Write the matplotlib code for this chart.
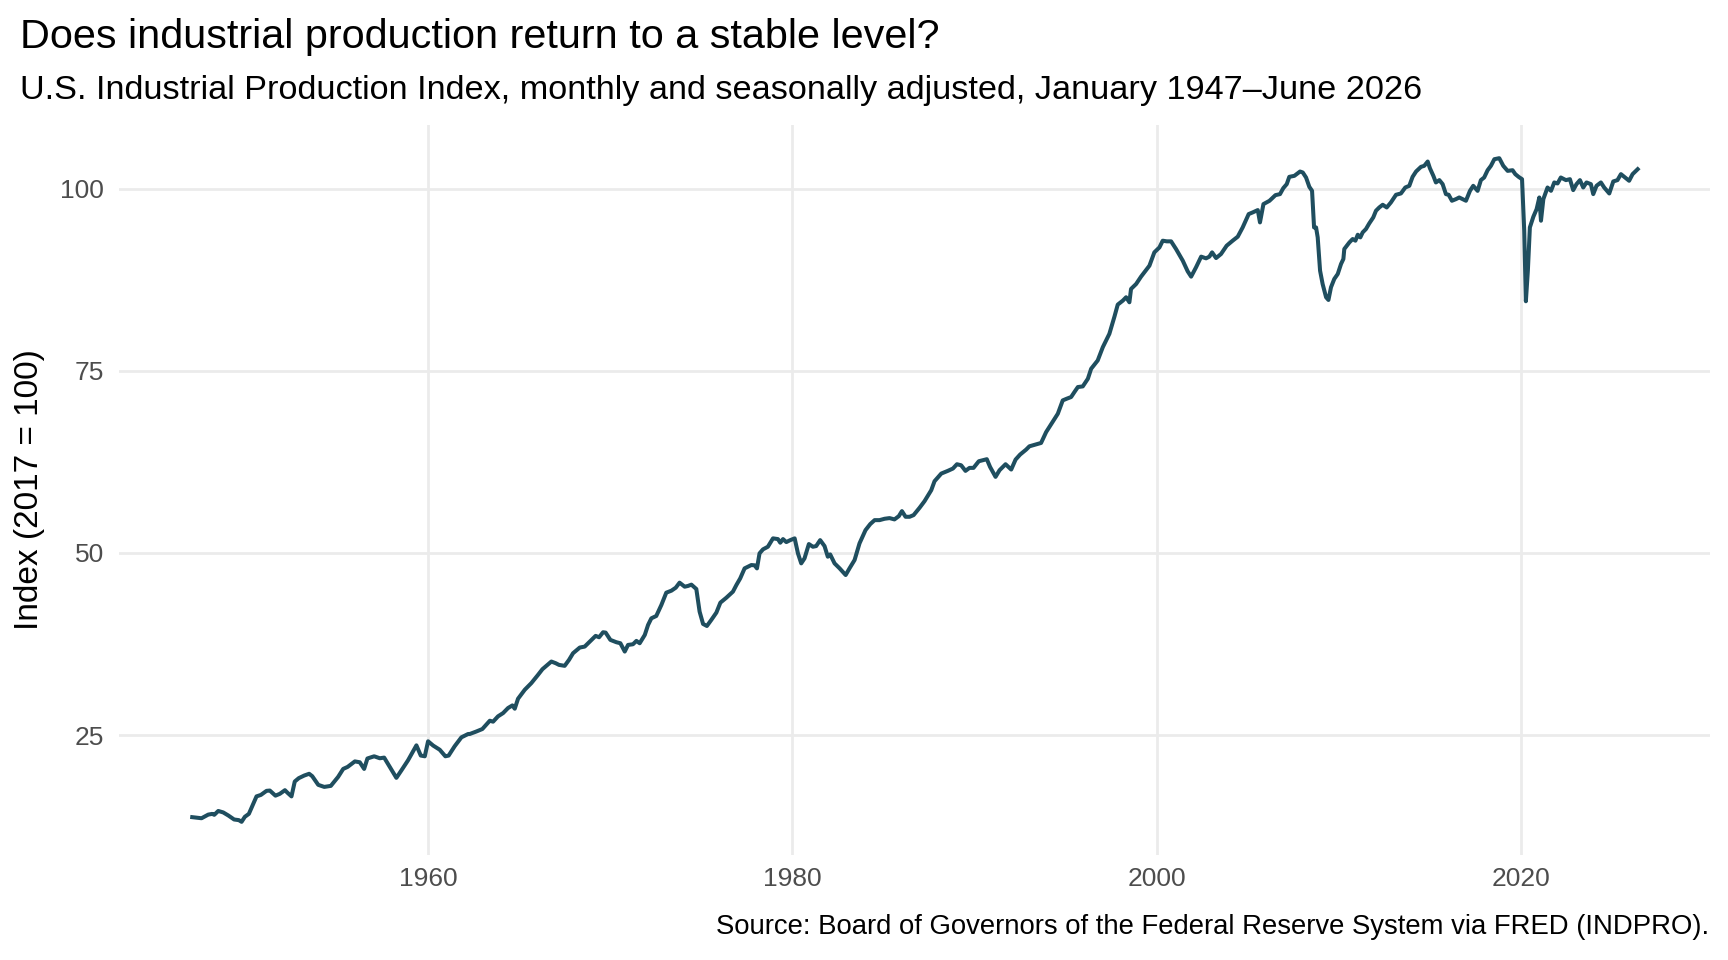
import matplotlib
matplotlib.use("Agg")
import matplotlib.pyplot as plt

plt.rcParams['font.family'] = ['Liberation Sans', 'DejaVu Sans']

# ---- data (decimal year, index 2017=100) ----
years = [
    1947.05, 1947.56, 1947.93, 1948.15, 1948.26, 1948.48, 1948.75, 1949.03, 1949.35, 1949.61,
    1949.76, 1949.94, 1950.16, 1950.58, 1950.82, 1951.13, 1951.31, 1951.62, 1951.86, 1952.14,
    1952.28, 1952.50, 1952.68, 1952.90, 1953.20, 1953.47, 1953.64, 1953.97, 1954.30, 1954.66,
    1955.06, 1955.34, 1955.58, 1955.98, 1956.25, 1956.49, 1956.67, 1957.04, 1957.35, 1957.59,
    1957.90, 1958.26, 1958.54, 1958.90, 1959.36, 1959.60, 1959.82, 1960.00, 1960.28, 1960.64,
    1960.95, 1961.13, 1961.46, 1961.83, 1962.20,
    1962.29, 1962.65, 1962.98, 1963.39, 1963.57, 1963.84, 1964.12, 1964.39, 1964.63, 1964.76,
    1964.94, 1965.31, 1965.67, 1966.04, 1966.28, 1966.77, 1967.01, 1967.19, 1967.50, 1967.74,
    1967.96, 1968.33, 1968.60, 1968.88, 1969.20, 1969.39, 1969.61, 1969.75, 1970.01, 1970.34,
    1970.56, 1970.80, 1970.98, 1971.25, 1971.44, 1971.62, 1971.90, 1972.08, 1972.26, 1972.53,
    1972.81, 1973.08, 1973.36, 1973.60, 1973.81, 1974.09, 1974.27, 1974.46, 1974.73, 1974.91,
    1975.10, 1975.31, 1975.55, 1975.83, 1976.05, 1976.38, 1976.74, 1976.93, 1977.14, 1977.38,
    1977.75, 1977.93,
    1978.06, 1978.20, 1978.39, 1978.66, 1978.94, 1979.21, 1979.34, 1979.49, 1979.67, 1979.89,
    1980.13, 1980.31, 1980.49, 1980.67, 1980.91, 1981.13, 1981.31, 1981.53, 1981.77, 1981.95,
    1982.08, 1982.32, 1982.60, 1982.93, 1983.14, 1983.42, 1983.69, 1984.02, 1984.28, 1984.52,
    1984.79, 1985.07, 1985.34, 1985.61, 1985.85, 1986.02, 1986.22, 1986.44, 1986.66, 1986.99,
    1987.26, 1987.63, 1987.81, 1988.18, 1988.54, 1988.82, 1989.04, 1989.27, 1989.51, 1989.73,
    1989.95, 1990.24, 1990.46, 1990.68, 1990.86, 1991.16, 1991.38, 1991.71, 1992.02, 1992.26,
    1992.51, 1992.84,
    1993.02, 1993.39, 1993.66, 1993.94, 1994.21, 1994.58, 1994.85, 1995.07, 1995.31, 1995.49,
    1995.68, 1995.95, 1996.23, 1996.41, 1996.77, 1997.05, 1997.41, 1997.69, 1997.87, 1998.15,
    1998.33, 1998.51, 1998.60, 1998.88, 1999.15, 1999.43, 1999.61, 1999.88, 2000.16, 2000.34,
    2000.56, 2000.80, 2001.07, 2001.44, 2001.71, 2001.90, 2002.17, 2002.45, 2002.72, 2002.90,
    2003.05, 2003.27, 2003.54, 2003.85, 2004.18, 2004.46, 2004.73, 2005.06, 2005.28, 2005.56,
    2005.68, 2005.87, 2006.20, 2006.53, 2006.78, 2006.96, 2007.15, 2007.29, 2007.57, 2007.88,
    2008.03, 2008.21, 2008.39, 2008.54, 2008.65, 2008.76, 2008.85, 2008.98, 2009.12, 2009.31,
    2009.44, 2009.58, 2009.76, 2009.95, 2010.13, 2010.26, 2010.31, 2010.59, 2010.77, 2010.92,
    2011.05, 2011.19, 2011.32, 2011.50, 2011.68, 2011.90, 2012.05, 2012.23, 2012.42, 2012.64,
    2012.87, 2013.15, 2013.42, 2013.66, 2013.88, 2014.06, 2014.25, 2014.52, 2014.70, 2014.89,
    2015.01, 2015.20, 2015.34, 2015.53, 2015.71, 2015.89, 2016.04, 2016.22, 2016.44, 2016.62,
    2016.81, 2016.99, 2017.21, 2017.39, 2017.63, 2017.81, 2017.99, 2018.18, 2018.36, 2018.55,
    2018.82, 2019.04, 2019.28, 2019.55, 2019.70, 2019.88, 2020.07, 2020.19, 2020.28, 2020.39,
    2020.50, 2020.69, 2020.87, 2021.02, 2021.11, 2021.24, 2021.47, 2021.66, 2021.84, 2022.02,
    2022.20, 2022.48, 2022.70, 2022.88, 2023.06, 2023.25, 2023.43, 2023.61, 2023.85, 2023.98,
    2024.16, 2024.40, 2024.58, 2024.86, 2025.08, 2025.31, 2025.50, 2025.73, 2025.95, 2026.14,
    2026.42,
]
index_values = [
    13.75, 13.60, 14.10, 14.20, 14.07, 14.60, 14.40, 13.98, 13.43, 13.34,
    13.11, 13.80, 14.20, 16.60, 16.80, 17.36, 17.40, 16.70, 16.95, 17.45,
    17.10, 16.60, 18.64, 19.10, 19.46, 19.70, 19.37, 18.18, 17.90, 18.04,
    19.27, 20.37, 20.64, 21.40, 21.28, 20.37, 21.80, 22.10, 21.83, 21.92,
    20.64, 19.14, 20.18, 21.55, 23.60, 22.20, 22.10, 24.16, 23.57, 23.00,
    22.10, 22.20, 23.48, 24.70, 25.16,
    25.16, 25.50, 25.84, 26.98, 26.85, 27.58, 28.03, 28.72, 29.08, 28.63,
    30.00, 31.23, 32.14, 33.28, 34.05, 35.10, 34.87, 34.64, 34.51, 35.33,
    36.24, 37.02, 37.15, 37.84, 38.62, 38.43, 39.12, 39.07, 38.07, 37.75,
    37.61, 36.47, 37.38, 37.47, 37.93, 37.61, 38.75, 40.12, 41.03, 41.35,
    42.86, 44.55, 44.82, 45.23, 45.92, 45.37, 45.47, 45.65, 45.05, 41.95,
    40.26, 39.98, 40.80, 41.81, 43.18, 43.86, 44.69, 45.60, 46.51, 47.88,
    48.34, 48.30,
    47.88, 49.94, 50.49, 50.85, 52.00, 51.90, 51.40, 51.90, 51.49, 51.76,
    52.00, 49.94, 48.57, 49.25, 51.22, 50.85, 50.94, 51.76, 50.94, 49.48,
    49.80, 48.57, 47.88, 46.97, 47.88, 49.03, 51.31, 53.13, 53.96, 54.50,
    54.50, 54.69, 54.78, 54.60, 55.05, 55.74, 54.96, 54.96, 55.19, 56.20,
    57.10, 58.61, 59.84, 60.89, 61.26, 61.58, 62.17, 62.03, 61.26, 61.67,
    61.67, 62.58, 62.72, 62.86, 61.80, 60.44, 61.35, 62.17, 61.44, 62.81,
    63.50, 64.18,
    64.63, 64.90, 65.09, 66.59, 67.64, 69.10, 70.93, 71.16, 71.39, 72.07,
    72.76, 72.85, 73.90, 75.27, 76.41, 78.23, 80.06, 82.43, 84.07, 84.62,
    85.08, 84.39, 86.22, 86.90, 87.91, 88.82, 89.41, 91.24, 91.92, 92.84,
    92.75, 92.75, 91.70, 90.10, 88.64, 87.91, 89.19, 90.65, 90.42, 90.65,
    91.24, 90.46, 91.01, 92.15, 92.84, 93.39, 94.66, 96.49, 96.72, 97.04,
    95.35, 97.86, 98.31, 99.09, 99.23, 100.05, 100.60, 101.60, 101.74, 102.33,
    102.20, 101.51, 100.23, 99.68, 94.66, 94.66, 93.29, 88.73, 86.90, 85.08,
    84.71, 86.45, 87.59, 88.27, 89.64, 90.33, 91.70, 92.61, 93.07, 92.84,
    93.66, 93.29, 93.98, 94.44, 95.21, 96.03, 96.95, 97.40, 97.77, 97.40,
    98.09, 99.14, 99.32, 100.14, 100.37, 101.60, 102.33, 102.97, 103.11, 103.70,
    102.79, 101.74, 100.83, 101.15, 100.60, 99.23, 99.14, 98.32, 98.54, 98.77,
    98.54, 98.32, 99.68, 100.37, 99.68, 101.15, 101.51, 102.51, 103.11, 104.02,
    104.16, 103.11, 102.42, 102.51, 101.97, 101.60, 101.28, 94.21, 84.53, 88.73,
    94.66, 96.12, 97.17, 98.77, 95.58, 98.54, 100.14, 99.68, 100.83, 100.69,
    101.51, 101.15, 101.28, 99.78, 100.60, 101.15, 100.14, 100.83, 100.60, 99.23,
    100.37, 100.83, 100.14, 99.32, 100.97, 101.15, 101.97, 101.51, 101.06, 101.97,
    102.65,
]
x_ticks = [1960, 1980, 2000, 2020]
y_ticks = [25, 50, 75, 100]

title = "Does industrial production return to a stable level?"
subtitle = "U.S. Industrial Production Index, monthly and seasonally adjusted, January 1947\u2013June 2026"
y_label = "Index (2017 = 100)"
caption = "Source: Board of Governors of the Federal Reserve System via FRED (INDPRO)."

W, H = 1728, 960
fig = plt.figure(figsize=(W / 100, H / 100), dpi=100)
ax = fig.add_axes([119 / W, 1 - 855 / H, (1710 - 119) / W, (855 - 125) / H])

ax.plot(years, index_values, color="#1F4E5F", lw=2.9, solid_joinstyle="round")

xmin, xmax = 1947.0, 2026.42
xr = xmax - xmin
ax.set_xlim(xmin - 0.05 * xr, xmax + 0.05 * xr)
ymin, ymax = min(index_values), max(index_values)
yr = ymax - ymin
ax.set_ylim(ymin - 0.05 * yr, ymax + 0.05 * yr)

ax.set_xticks(x_ticks)
ax.set_yticks(y_ticks)
ax.grid(True, color="#EBEBEB", lw=2.0)
ax.set_axisbelow(True)
for s in ax.spines.values():
    s.set_visible(False)
ax.tick_params(length=0, labelsize=19, labelcolor="#4D4D4D")
ax.tick_params(axis="x", pad=9)
ax.tick_params(axis="y", pad=11)

fig.text(30 / W, 1 - 490 / H, y_label, rotation=90, ha="center", va="center", fontsize=24, color="black")
fig.text(20 / W, 1 - 47.7 / H, title, ha="left", va="baseline", fontsize=29.8, color="black")
fig.text(20 / W, 1 - 99 / H, subtitle, ha="left", va="baseline", fontsize=24.7, color="black")
fig.text(1709 / W, 1 - 934 / H, caption, ha="right", va="baseline", fontsize=19.8, color="black")

fig.savefig("out.png", dpi=100)
